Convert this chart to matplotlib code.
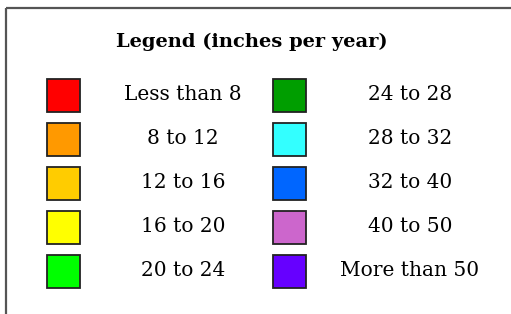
import matplotlib
matplotlib.use("Agg")
import matplotlib.pyplot as plt
from matplotlib.patches import Rectangle

# Legend content
TITLE = "Legend (inches per year)"
left_labels = ["Less than 8", "8 to 12", "12 to 16", "16 to 20", "20 to 24"]
left_colors = ["#FF0000", "#FF9900", "#FFCC00", "#FFFF00", "#00FF00"]
right_labels = ["24 to 28", "28 to 32", "32 to 40", "40 to 50", "More than 50"]
right_colors = ["#009E00", "#33FFFF", "#0066FF", "#CC66CC", "#6600FF"]

W, H = 511, 314
fig = plt.figure(figsize=(W / 100, H / 100), dpi=100)
ax = fig.add_axes([0, 0, 1, 1])
ax.set_xlim(0, W)
ax.set_ylim(H, 0)
ax.axis("off")

# frame (left and top edges only visible)
ax.plot([6, 6], [H, 8], color="#555555", lw=1.6, solid_capstyle="butt")
ax.plot([6, W], [8, 8], color="#555555", lw=1.6, solid_capstyle="butt")

ax.text(252, 42, TITLE, ha="center", va="center", fontsize=14,
        fontweight="bold", family="DejaVu Serif")

row_y0, row_step = 95, 44
sq = 33


def draw_column(labels, colors, sq_x, text_x):
    for i, (lab, col) in enumerate(zip(labels, colors)):
        y = row_y0 + i * row_step
        ax.add_patch(Rectangle((sq_x, y - sq / 2), sq, sq, facecolor=col,
                               edgecolor="#222222", lw=1.3))
        ax.text(text_x, y, lab, ha="center", va="center", fontsize=14.5,
                family="DejaVu Serif")


draw_column(left_labels, left_colors, 47, 183)
draw_column(right_labels, right_colors, 273, 410)

fig.savefig("out.png", dpi=100)
